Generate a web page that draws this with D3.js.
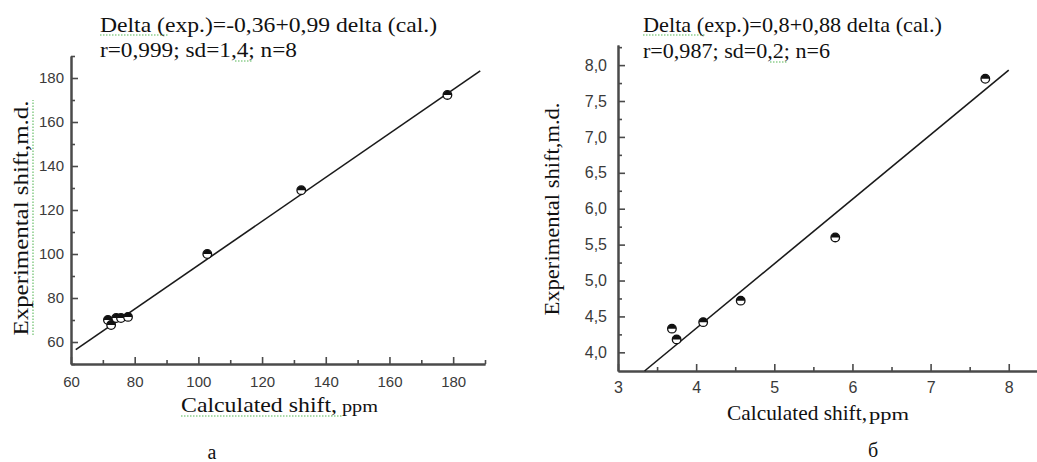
<!DOCTYPE html>
<html>
<head>
<meta charset="utf-8">
<script src="https://cdn.jsdelivr.net/npm/d3@7"></script>
<style>
  body { margin: 0; background: #fff; }
  svg { display: block; }
  .axis .tick text { font-family: "Liberation Sans", Arial, sans-serif; fill: #3a3a3a; }
  .axis path, .axis line { stroke: #4a4a4a; }
  .axis path { stroke-width: 2; }
  .axis line { stroke-width: 1.6; }
  .serif { font-family: "Liberation Serif", "Times New Roman", serif; fill: #111; }
  .squiggle { stroke: #8fcf8f; stroke-width: 1.6; stroke-dasharray: 1.5 1.5; fill: none; }
</style>
</head>
<body>
<svg id="chart" width="1037" height="462"></svg>
<script>
// panel a
var calcA = [71.6, 72.6, 74.2, 75.7, 77.9, 102.8, 132.3, 178.2]
var expA  = [70.0, 67.7, 70.9, 70.9, 71.4, 100.0, 129.0, 172.3]
var fitCalcA = [61.5, 188.5]
var fitExpA  = [56.5, 183.2]
var xTicksA = [60, 80, 100, 120, 140, 160, 180]
var xMinorA = [70, 90, 110, 130, 150, 170, 190]
var yTicksA = [60, 80, 100, 120, 140, 160, 180]
var yMinorA = [50, 70, 90, 110, 130, 150, 170, 190]
var eqA = ["Delta (exp.)=-0,36+0,99 delta (cal.)", "r=0,999; sd=1,4; n=8"]

// panel б
var calcB = [3.69, 3.75, 4.09, 4.57, 5.78, 7.70]
var expB  = [4.33, 4.18, 4.42, 4.72, 5.60, 7.81]
var fitCalcB = [3.34, 8.0]
var fitExpB  = [3.74, 7.93]
var xTicksB = [3, 4, 5, 6, 7, 8]
var xMinorB = [3.5, 4.5, 5.5, 6.5, 7.5]
var yTicksB = [4.0, 4.5, 5.0, 5.5, 6.0, 6.5, 7.0, 7.5, 8.0]
var yMinorB = [4.25, 4.75, 5.25, 5.75, 6.25, 6.75, 7.25, 7.75, 8.25]
var eqB = ["Delta (exp.)=0,8+0,88 delta (cal.)", "r=0,987; sd=0,2; n=6"]

var svg = d3.select("#chart")

var comma1 = d => d3.format(".1f")(d).replace(".", ",")

function drawPanel(p) { //{{{
  var x = d3.scaleLinear().domain(p.xDomain).range(p.xRange)
  var y = d3.scaleLinear().domain(p.yDomain).range(p.yRange)
  var g = svg.append("g")

  // spell-check squiggles of the scanned source, under the text
  p.squig.forEach(s => {
    g.append("line").attr("class", "squiggle")
      .attr("x1", s[0]).attr("y1", s[1]).attr("x2", s[2]).attr("y2", s[3])
  })

  // minor ticks first, majors on top
  g.append("g").classed("axis", true)
    .attr("transform", "translate(0," + p.yRange[0] + ")")
    .call(d3.axisBottom(x).tickValues(p.xMinor).tickFormat("").tickSizeInner(-4).tickSizeOuter(0))
  g.append("g").classed("axis", true)
    .attr("transform", "translate(" + p.xRange[0] + ",0)")
    .call(d3.axisLeft(y).tickValues(p.yMinor).tickFormat("").tickSizeInner(-4).tickSizeOuter(0))

  g.append("g").classed("axis", true)
    .attr("transform", "translate(0," + p.yRange[0] + ")")
    .call(d3.axisBottom(x).tickValues(p.xTicks).tickFormat(p.xFmt)
      .tickSizeInner(-7).tickSizeOuter(0).tickPadding(p.xPad))
    .selectAll("text").style("font-size", p.tickFont + "px")
  g.append("g").classed("axis", true)
    .attr("transform", "translate(" + p.xRange[0] + ",0)")
    .call(d3.axisLeft(y).tickValues(p.yTicks).tickFormat(p.yFmt)
      .tickSizeInner(-7).tickSizeOuter(0).tickPadding(p.yPad))
    .selectAll("text").style("font-size", p.tickFont + "px")

  // regression line
  var line = d3.line().x(d => x(d[0])).y(d => y(d[1]))
  g.append("path")
    .datum(d3.zip(p.fitX, p.fitY))
    .attr("fill", "none")
    .attr("stroke", "#1a1a1a")
    .attr("stroke-width", 1.6)
    .attr("d", line)

  // half filled markers
  var r = 4.3
  var pts = g.selectAll(".pt")
    .data(d3.zip(p.px, p.py))
    .join("g")
    .attr("class", "pt")
    .attr("transform", d => "translate(" + x(d[0]) + "," + y(d[1]) + ")")
  pts.append("circle")
    .attr("r", r)
    .attr("fill", "#fff")
    .attr("stroke", "#111")
    .attr("stroke-width", 1.3)
  pts.append("path")
    .attr("d", "M" + (-r) + ",0A" + r + "," + r + " 0 0 1 " + r + ",0Z")
    .attr("fill", "#111")

  // equation
  p.eq.forEach((t, i) => {
    g.append("text").attr("class", "serif")
      .attr("x", p.eqX).attr("y", p.eqY[i])
      .attr("textLength", p.eqW[i])
      .attr("lengthAdjust", "spacingAndGlyphs")
      .style("font-size", "22px")
      .text(t)
  })

  // axis titles
  g.append("text").attr("class", "serif")
    .attr("x", p.xLab[0]).attr("y", p.xLab[1])
    .attr("textLength", p.xLab[2])
    .attr("lengthAdjust", "spacingAndGlyphs")
    .style("font-size", "22px")
    .text("Calculated shift,")
  g.append("text").attr("class", "serif")
    .attr("x", p.ppm[0]).attr("y", p.xLab[1])
    .attr("textLength", p.ppm[1])
    .attr("lengthAdjust", "spacingAndGlyphs")
    .style("font-size", "16px")
    .text("ppm")

  g.append("text").attr("class", "serif")
    .attr("transform", "translate(" + p.yLab[0] + "," + p.yLab[1] + ") rotate(-90)")
    .attr("textLength", p.yLab[2])
    .attr("lengthAdjust", "spacingAndGlyphs")
    .style("text-anchor", "middle")
    .style("font-size", p.yLab[3] + "px")
    .text("Experimental shift,m.d.")

  g.append("text").attr("class", "serif")
    .attr("x", p.cap[0]).attr("y", p.cap[1])
    .style("text-anchor", "middle")
    .style("font-size", "20px")
    .text(p.capText)
} //}}}

drawPanel({
  xDomain: [60, 190], xRange: [71, 485],
  yDomain: [50, 190], yRange: [364, 56],
  xTicks: xTicksA, xMinor: xMinorA, yTicks: yTicksA, yMinor: yMinorA,
  xFmt: d3.format("d"), yFmt: d3.format("d"),
  xPad: 12, yPad: 7, tickFont: 15,
  fitX: fitCalcA, fitY: fitExpA, px: calcA, py: expA,
  eq: eqA, eqX: 100, eqY: [32, 57], eqW: [337, 197],
  xLab: [181, 412, 156], ppm: [342, 36],
  yLab: [28, 218, 235, 22],
  cap: [212, 459], capText: "a",
  squig: [[100, 35, 168, 35], [235, 61, 252, 61], [181, 416, 342, 416], [33, 335, 33, 100]]
})

drawPanel({
  xDomain: [3, 8.4], xRange: [618, 1040],
  yDomain: [3.74, 8.28], yRange: [371, 45],
  xTicks: xTicksB, xMinor: xMinorB, yTicks: yTicksB, yMinor: yMinorB,
  xFmt: d3.format("d"), yFmt: comma1,
  xPad: 11, yPad: 11, tickFont: 16,
  fitX: fitCalcB, fitY: fitExpB, px: calcB, py: expB,
  eq: eqB, eqX: 643, eqY: [32, 58], eqW: [299, 187],
  xLab: [727, 420, 140], ppm: [869, 40],
  yLab: [559, 209, 213, 20],
  cap: [873, 457], capText: "б",
  squig: [[643, 35, 705, 35], [770, 62, 787, 62]]
})
</script>
</body>
</html>
